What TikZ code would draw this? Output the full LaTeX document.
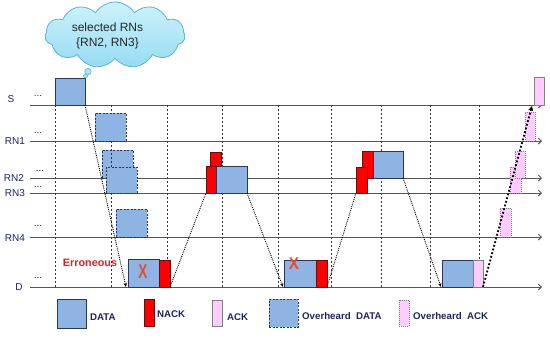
\documentclass[tikz,border=0pt]{standalone}
\usepackage{fontspec}
\setmainfont{Liberation Sans}
\usetikzlibrary{shapes.symbols,arrows.meta,calc}

\definecolor{datablue}{RGB}{141,180,226}
\definecolor{databord}{RGB}{45,55,85}
\definecolor{nackred}{RGB}{255,0,0}
\definecolor{nackbord}{RGB}{110,10,10}
\definecolor{ackpink}{RGB}{255,204,255}
\definecolor{ackbord}{RGB}{128,128,128}
\definecolor{navytext}{RGB}{30,35,100}
\definecolor{errred}{RGB}{225,30,35}
\definecolor{xred}{RGB}{232,75,45}
\definecolor{cloudtop}{RGB}{205,242,252}
\definecolor{cloudbot}{RGB}{150,220,242}
\definecolor{cloudfill}{RGB}{170,228,246}
\definecolor{cloudbord}{RGB}{95,175,212}
\definecolor{tline}{RGB}{85,85,85}

\newcommand\drawbox[6]{\node[#1,minimum width={#4pt-#2pt},minimum height={#5pt-#3pt}] (#6) at (#2,#3) {};}

\begin{document}
\begin{tikzpicture}[x=1pt,y=-1pt,
  box/.style={inner sep=0pt,outer sep=0pt,anchor=north west,line width=0.8pt},
  databox/.style={box,fill=datablue,draw=databord},
  odatabox/.style={box,fill=datablue,draw=databord,dash pattern=on 2pt off 1.5pt},
  nackbox/.style={box,fill=nackred,draw=nackbord},
  ackbox/.style={box,fill=ackpink,draw=ackbord},
  oackbox/.style={box,fill=ackpink,draw=ackbord,dash pattern=on 1pt off 1pt},
  timeline/.style={draw=tline,line width=0.9pt,-{Straight Barb[length=3pt,width=6pt]}},
  slot/.style={draw=black!80,line width=0.6pt,dash pattern=on 2pt off 2pt},
  hop/.style={draw=black,line width=0.9pt,densely dotted},
  hoparrow/.style={hop,-{Stealth[length=4pt,width=3.5pt]}},
  ackhop/.style={draw=black,line width=1.8pt,dotted,-{Stealth[length=5pt,width=5pt]}},
  nodelabel/.style={text=navytext,font=\fontsize{10}{12}\selectfont,inner sep=0pt},
  dots/.style={text=navytext,font=\fontsize{10}{12}\selectfont,inner sep=0pt,anchor=base},
  legtext/.style={text=navytext,font=\bfseries\fontsize{9.7}{11}\selectfont,inner sep=0pt,anchor=west},
  xmark/.style={text=xred,inner sep=0pt},
]
\useasboundingbox (0,0) rectangle (550,341);

% timelines
\foreach \n/\y in {S/105,R1/141,R2/178,R3/193,R4/237,D/287}{
  \coordinate (\n-a) at (30,\y);
  \coordinate (\n-b) at (542,\y);
  \draw[timeline] (\n-a) -- (\n-b);
}

% labels
\node[nodelabel] (lS) at (11,99) {S};
\node[nodelabel] (lR1) at (15,141) {RN1};
\node[nodelabel] (lR2) at (14,178) {RN2};
\node[nodelabel] (lR3) at (15,193) {RN3};
\node[nodelabel] (lR4) at (15,238) {RN4};
\node[nodelabel] (lD) at (19,287) {D};

\node[dots] (dS) at (38,96) {...};
\node[dots] (dR1) at (38,133) {...};
\node[dots] (dR2) at (40,171) {...};
\node[dots] (dR3) at (38,187) {...};
\node[dots] (dR4) at (38,226) {...};
\node[dots] (dD) at (38,278) {...};

% overheard data at RN2 (under the slot line)
\drawbox{odatabox}{102}{150}{133}{178}{oR2}

% slot lines
\foreach \x [count=\i] in {55,111,167,222,278,331,381,430,479}{
  \coordinate (v\i-a) at (\x,105);
  \coordinate (v\i-b) at (\x,287);
  \draw[slot] (v\i-a) -- (v\i-b);
}

% first transmission
\drawbox{databox}{55}{78}{85}{105}{sData}
\drawbox{databox}{128}{259}{159}{287}{d1}
\drawbox{nackbox}{159}{260}{170}{287}{n1}
\draw[hoparrow] (sData.south east) -- ($(d1.south west)+(-2,0)$);

\drawbox{odatabox}{95}{113}{126}{141}{oR1}
\drawbox{odatabox}{106}{167}{137}{193}{oR3}
\drawbox{odatabox}{116}{209}{147}{237}{oR4}

\node[xmark,font=\bfseries\fontsize{20}{22}\selectfont] (x1) at (143,271.5) {\scalebox{0.68}[1]{X}};
\node[text=errred,font=\bfseries\fontsize{10.8}{12}\selectfont,inner sep=0pt] (err) at (90,263) {Erroneous};

% second round
\drawbox{nackbox}{210}{152}{221}{178}{n2a}
\drawbox{nackbox}{206}{166}{216}{193}{n3a}
\drawbox{databox}{216}{166}{247}{193}{r3Data}
\draw[hop] (n1.south east) -- (n3a.south west);

\drawbox{databox}{284}{260}{316}{287}{d2}
\drawbox{nackbox}{316}{260}{327}{287}{n2}
\draw[hoparrow] (r3Data.south east) -- ($(d2.south west)+(-1,0)$);
\node[xmark,font=\bfseries\fontsize{17}{18}\selectfont] (x2) at (294,263.5) {\scalebox{0.9}[1]{X}};

% third round
\drawbox{nackbox}{362}{151}{373}{178}{n2b}
\drawbox{nackbox}{356}{167}{367}{193}{n3b}
\drawbox{databox}{373}{151}{403}{178}{r2Data}
\draw[hop] (n2.south east) -- (n3b.south west);

\drawbox{databox}{442}{260}{473}{287}{d3}
\drawbox{ackbox}{473}{260}{483}{287}{ack}
\draw[hoparrow] (r2Data.south east) -- ($(d3.south west)+(-1,0)$);

% ACK back to source
\drawbox{oackbox}{500}{208}{511}{237}{aR4}
\drawbox{oackbox}{510}{167}{521}{193}{aR3}
\drawbox{oackbox}{515}{151}{525}{178}{aR2}
\drawbox{oackbox}{525}{112}{535}{141}{aR1}
\drawbox{ackbox}{534}{77}{544}{105}{aS}
\draw[ackhop] (ack.south east) -- ($(aS.south west)+(-2,1)$);

% cloud
\node[cloud,draw=cloudbord,top color=cloudtop,bottom color=cloudbot,line width=0.8pt,cloud puffs=11,cloud puff arc=115,
      cloud ignores aspect,minimum width=140pt,minimum height=66pt,inner sep=0pt] (cloud) at (115,35) {};
\node[circle,draw=cloudbord,fill=cloudfill,line width=0.6pt,minimum size=6.5pt,inner sep=0pt] (b1) at (88,71.5) {};
\node[circle,draw=cloudbord,fill=cloudfill,line width=0.6pt,minimum size=4pt,inner sep=0pt] (b2) at (85.5,76) {};
\node[font=\fontsize{12}{14}\selectfont,text=black!85,inner sep=0pt] (c1) at (107.5,27) {selected RNs};
\node[font=\fontsize{12}{14}\selectfont,text=black!85,inner sep=0pt] (c2) at (107.5,43) {\{RN2, RN3\}};

% legend
\drawbox{databox}{57}{299}{86}{328}{gData}
\node[legtext] (tData) at (90,317) {DATA};
\drawbox{nackbox}{144}{299}{154}{326}{gNack}
\node[legtext] (tNack) at (157,314) {NACK};
\drawbox{ackbox}{212}{300}{222}{326}{gAck}
\node[legtext] (tAck) at (227,317) {ACK};
\drawbox{odatabox}{269}{299}{298}{327}{gOData}
\node[legtext] (tOData) at (302,316) {Overheard~~DATA};
\drawbox{oackbox}{399}{300}{409}{326}{gOAck}
\node[legtext] (tOAck) at (413,316) {Overheard~~ACK};
\end{tikzpicture}
\end{document}
